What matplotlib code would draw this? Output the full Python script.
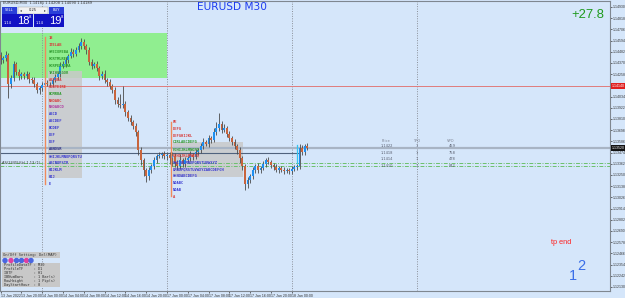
import matplotlib
matplotlib.use("Agg")
import matplotlib.pyplot as plt
import matplotlib.transforms as mtransforms
from matplotlib.patches import Rectangle, Circle
import numpy as np

W, H = 625, 298
BG = "#d5e6fa"

# EURUSD M30 candles, 13 Jan 16:00 -> 18 Jan 03:00
first_open = 1.1445
closes = [1.1440, 1.1442, 1.1445, 1.1416, 1.1422, 1.1436, 1.1428, 1.1424, 1.1426, 1.1424,
          1.1426, 1.1421, 1.1420, 1.1416, 1.1410, 1.1412, 1.1415, 1.1417, 1.1416, 1.1416,
          1.1420, 1.1423, 1.1426, 1.1434, 1.1436, 1.1440, 1.1444, 1.1448, 1.1446, 1.1450,
          1.1454, 1.1458, 1.1454, 1.1450, 1.1438, 1.1434, 1.1436, 1.1432, 1.1424, 1.1426,
          1.1420, 1.1418, 1.1414, 1.1410, 1.1400, 1.1396, 1.1395, 1.1396, 1.1388, 1.1382,
          1.1378, 1.1374, 1.1368, 1.1350, 1.1340, 1.1330, 1.1324, 1.1330, 1.1334, 1.1340,
          1.1344, 1.1345, 1.1346, 1.1344, 1.1345, 1.1342, 1.1344, 1.1338, 1.1334, 1.1340,
          1.1336, 1.1340, 1.1342, 1.1345, 1.1343, 1.1348, 1.1350, 1.1354, 1.1358, 1.1356,
          1.1362, 1.1360, 1.1368, 1.1372, 1.1376, 1.1370, 1.1372, 1.1366, 1.1362, 1.1358,
          1.1354, 1.1350, 1.1342, 1.1334, 1.1316, 1.1320, 1.1324, 1.1330, 1.1334, 1.1330,
          1.1332, 1.1336, 1.1340, 1.1338, 1.1335, 1.1333, 1.1330, 1.1332, 1.1330, 1.1329,
          1.1330, 1.1329, 1.1331, 1.1333, 1.1334, 1.1352, 1.1348, 1.1354, 1.1352]
# wick lengths in pips above / below the body
wick_up = [3, 2, 4, 2, 3, 3, 2, 3, 2, 2, 3, 2, 2, 3, 2, 2, 3, 2, 3, 2,
           2, 3, 2, 4, 3, 3, 2, 4, 3, 3, 3, 4, 3, 2, 3, 3, 2, 3, 2, 3,
           4, 2, 3, 2, 3, 3, 10, 18, 3, 2, 3, 2, 3, 2, 3, 2, 2, 3, 2, 3,
           2, 3, 2, 3, 2, 3, 4, 3, 2, 6, 2, 3, 2, 4, 2, 3, 2, 3, 4, 2,
           3, 2, 4, 6, 11, 3, 4, 2, 3, 2, 3, 2, 3, 2, 2, 3, 2, 3, 2, 3,
           2, 3, 2, 3, 2, 2, 3, 2, 2, 3, 2, 2, 3, 2, 2, 4, 3, 2, 3]
wick_dn = [4, 3, 3, 14, 4, 3, 3, 4, 3, 3, 3, 4, 3, 3, 3, 4, 3, 3, 2, 3,
           3, 2, 3, 3, 2, 3, 3, 2, 3, 2, 2, 3, 3, 4, 3, 3, 2, 3, 4, 3,
           3, 4, 3, 3, 4, 3, 3, 3, 4, 3, 3, 3, 4, 5, 5, 6, 6, 4, 3, 3,
           3, 2, 3, 3, 4, 6, 8, 5, 4, 3, 3, 3, 2, 3, 3, 2, 3, 3, 3, 2,
           3, 3, 2, 3, 3, 3, 2, 3, 3, 3, 3, 4, 5, 4, 6, 4, 3, 3, 3, 3,
           3, 2, 3, 2, 3, 3, 2, 3, 2, 3, 2, 3, 3, 2, 3, 3, 3, 3, 2]

date_bars = [0, 8, 16, 24, 32, 40, 48, 56, 64, 72, 80, 88, 96, 104, 112]
date_labels = ["13 Jan 2022", "13 Jan 20:00", "14 Jan 00:00", "14 Jan 04:00", "14 Jan 08:00",
               "14 Jan 12:00", "14 Jan 16:00", "14 Jan 20:00", "17 Jan 00:00", "17 Jan 04:00",
               "17 Jan 08:00", "17 Jan 12:00", "17 Jan 16:00", "17 Jan 20:00", "18 Jan 00:00"]
day_breaks = [16, 64, 112, 160]

price_tick_top = 1.1493
price_tick_step = 0.00112
n_price_ticks = 26

zone_top, zone_bottom, zone_end = 1.1467, 1.1422, 64
red_level = 1.1414
bid_level = 1.1352
ib_level = 1.1347
green_levels = [1.1337, 1.1334]

tbl_price = ["1.1422", "1.1418", "1.1414", "1.1410"]
tbl_tpo = ["1", "1", "1", "1"]
tbl_vpo = ["459", "758", "478", "842"]

R, G, B, P = "#d83c3c", "#2f9a2f", "#3a3ad0", "#b03ca0"
profile1 = [("18", R), ("1TELAB", R), ("GREIOREBA", G), ("FORTMURET", G), ("FORPERSOMA", G),
            ("TRIHORGOR", G), ("ABCDEA", R), ("FORTEIRE", R), ("BCMRBA", G), ("MNOABC", R),
            ("MNOABCD", P), ("ABCD", B), ("ABCDEF", B), ("BCDEF", B), ("DEF", B), ("DEF", B),
            ("ABNOSR", "#2a2a80"), ("GHIJKLMNOPQRSTU", B), ("ABCNOPSTR", B), ("HIJKLM", B),
            ("HIJ", B), ("E", B)]
profile2 = [("FE", R), ("DEFG", R), ("DEFGHIJKL", R), ("CIRLABCDEFG", G), ("FGHIJKLMNOPQ", G),
            ("FGHIJKLMNOPQ", R), ("GHIJKLMNOPQRSTUVWXYZ", B), ("LMNOPQRSTUVWXYZABCDEFGH", B),
            ("GHNOABCDEFG", B), ("NOABC", B), ("NOAB", B), ("A", R)]

settings = ["ProfileDataTF : M30", "ProfileTF     : D1", "IBTF          : H1",
            "IBNumBars     : 1 Bar(s)", "RowHeight     : 1 Pip(s)", "DayStartHour  : 0"]

fig = plt.figure(figsize=(W / 100, H / 100), dpi=100, facecolor=BG)
ax = fig.add_axes([0, 7 / H, 610 / W, 290 / H], facecolor=BG)
ax.set_xlim(-0.2, 234.4)
ax.set_ylim(1.1209, 1.1499)

# image-pixel transform for the terminal overlays
pix = mtransforms.Affine2D().scale(0.01, -0.01).translate(0, H / 100) + fig.dpi_scale_trans

x = np.arange(len(closes))
c = np.array(closes)
o = np.concatenate([[first_open], c[:-1]])
top = np.maximum(o, c)
bot = np.minimum(o, c)
hi = top + np.array(wick_up) * 0.0001
lo = bot - np.array(wick_dn) * 0.0001
cols = np.where(c >= o, "#1e8ff0", "#c8643c")

ax.add_patch(Rectangle((-2, zone_bottom), zone_end + 2, zone_top - zone_bottom,
                       color="#90ee90", lw=0, zorder=1))
for b in day_breaks:
    ax.axvline(b, color="#8a8f98", lw=0.7, ls=(0, (1, 1.5)), zorder=1.2)

# profile backgrounds
ax.add_patch(Rectangle((48, 71), 34, 107, transform=pix, color="#c9c9c9", alpha=0.85, lw=0, zorder=1.5))
ax.add_patch(Rectangle((173, 142), 70, 35, transform=pix, color="#c9c9c9", alpha=0.85, lw=0, zorder=1.5))

ax.axhline(red_level, color="#e07c7c", lw=0.7, zorder=1.6)
ax.axhline(bid_level, color="#a8b4c4", lw=1.6, zorder=1.6)
ax.plot([0, 298], [153, 153], transform=pix, color="#50637e", lw=0.8, zorder=1.7)
for lvl in green_levels:
    ax.axhline(lvl, color="#6cc06c", lw=0.7, ls=(0, (4, 1.5, 1, 1.5)), zorder=1.7)

ax.vlines(x, lo, hi, color="#4a4a4a", lw=0.6, zorder=2.5)
ax.bar(x, np.maximum(top - bot, 0.00002), bottom=bot, width=0.66, color=cols, lw=0, zorder=3)

# orange profile markers
ax.plot([45, 45], [37, 184], transform=pix, color="#f08a5a", lw=1.0, zorder=3.5)
ax.plot([171, 171], [122, 196], transform=pix, color="#f08a5a", lw=1.0, zorder=3.5)
ax.plot([297, 297], [145, 163], transform=pix, color="#33c4f0", lw=0.9, zorder=3.5)

mono = "DejaVu Sans Mono"
for k, (s, col) in enumerate(profile1):
    ax.text(49, 38 + 6.95 * k, s, transform=pix, fontsize=2.7, family=mono, weight="bold",
            color=col, va="center", ha="left", zorder=4)
for k, (s, col) in enumerate(profile2):
    ax.text(173, 122 + 6.8 * k, s, transform=pix, fontsize=2.7, family=mono, weight="bold",
            color=col, va="center", ha="left", zorder=4)

# TPO/VPO table
for xx, s in zip([382, 413, 447], ["Price", "TPO", "VPO"]):
    ax.text(xx, 141, s, transform=pix, fontsize=2.6, color="#7a8090", va="center")
for k in range(len(tbl_price)):
    yy = 146 + 6.7 * k
    ax.text(381, yy, tbl_price[k], transform=pix, fontsize=2.6, color="#5a6070", va="center")
    ax.text(416, yy, tbl_tpo[k], transform=pix, fontsize=2.6, color="#5a6070", va="center")
    ax.text(449, yy, tbl_vpo[k], transform=pix, fontsize=2.6, color="#5a6070", va="center")

ax.text(2, 163, "AS(24/05)(b) 1.13 (1)", transform=pix, fontsize=2.6, color="#333", va="center")

# axes / ticks
arial = "Liberation Sans"
for sp in ax.spines.values():
    sp.set_color("#7f8790")
    sp.set_linewidth(0.8)
ax.yaxis.tick_right()
yt = [price_tick_top - price_tick_step * k for k in range(n_price_ticks)]
ax.set_yticks(yt)
ax.set_yticklabels(["%.5f" % v for v in yt], family=arial)
ax.tick_params(axis="y", labelsize=2.5, length=1.5, pad=0.6, colors="#333", width=0.5)
ax.set_xticks(date_bars)
ax.set_xticklabels(date_labels, family=arial)
ax.tick_params(axis="x", labelsize=2.6, length=1.5, pad=0.6, colors="#333", width=0.5)
for lab in ax.get_xticklabels():
    lab.set_ha("left")

tr = mtransforms.blended_transform_factory(ax.transAxes, ax.transData)
ax.text(1.003, red_level, "1.14140", transform=tr, fontsize=2.5, color="white", va="center",
        family=arial, bbox=dict(boxstyle="square,pad=0.15", fc="#e02020", ec="none"),
        zorder=6, clip_on=False)
ax.text(1.003, bid_level, "1.13520", transform=tr, fontsize=2.5, color="white", va="center",
        family=arial, bbox=dict(boxstyle="square,pad=0.15", fc="#111111", ec="none"),
        zorder=6, clip_on=False)

# big texts
fig.text(197 / W, 1 - 7.5 / H, "EURUSD M30", fontsize=7.6, color="#1e3cf0", va="center", ha="left")
fig.text(571 / W, 1 - 15 / H, "+27.8", fontsize=9.4, color="#1e9a1e", va="center", ha="left", family=arial)
fig.text(551 / W, 1 - 242 / H, "tp end", fontsize=5.3, color="#ff2020", va="center", ha="left", family=arial)
fig.text(569 / W, 1 - 276.5 / H, "1", fontsize=10.5, color="#3a6ee8", va="center", ha="left", family=arial)
fig.text(577 / W, 1 - 265.5 / H, "2", fontsize=10.5, color="#3a6ee8", va="center", ha="left", family=arial)

# one-click trading panel
fig.text(3 / W, 1 - 3 / H, "EURUSD,M30  1.14181 1.14208 1.14090 1.14189", fontsize=2.6,
         color="#333", va="center", ha="left")
ax.add_patch(Rectangle((2, 7), 15, 6.5, transform=pix, color="#2a3fd8", lw=0, zorder=7, clip_on=False))
ax.add_patch(Rectangle((18, 7), 30, 6.5, transform=pix, fc="#f2f2f2", ec="#999", lw=0.3, zorder=7, clip_on=False))
ax.add_patch(Rectangle((49, 7), 15, 6.5, transform=pix, color="#2a3fd8", lw=0, zorder=7, clip_on=False))
ax.add_patch(Rectangle((2, 14), 31, 12.5, transform=pix, color="#1212c4", lw=0, zorder=7, clip_on=False))
ax.add_patch(Rectangle((34, 14), 30, 12.5, transform=pix, color="#1212c4", lw=0, zorder=7, clip_on=False))
ax.text(9.5, 10.3, "SELL", transform=pix, fontsize=2.6, color="white", ha="center", va="center", zorder=8)
ax.text(56.5, 10.3, "BUY", transform=pix, fontsize=2.6, color="white", ha="center", va="center", zorder=8)
ax.text(33, 10.3, "0.25", transform=pix, fontsize=2.6, color="#222", ha="center", va="center", zorder=8)
ax.text(21, 10.3, "\u25c2", transform=pix, fontsize=2.6, color="#444", ha="center", va="center", zorder=8)
ax.text(45, 10.3, "\u25b8", transform=pix, fontsize=2.6, color="#444", ha="center", va="center", zorder=8)
for x0, big in [(4, "18"), (36, "19")]:
    ax.text(x0, 22.5, "1.14", transform=pix, fontsize=2.6, color="white", va="center", zorder=8)
    ax.text(x0 + 13, 20.5, big, transform=pix, fontsize=8, color="white", va="center",
            family=arial, zorder=8)
    ax.text(x0 + 24.5, 17, "8", transform=pix, fontsize=2.8, color="white", va="center", zorder=8)

# settings panel
ax.add_patch(Rectangle((2, 252), 58, 6, transform=pix, color="#c8c8c8", lw=0, zorder=7))
ax.text(3, 255, "On/Off Setting: Del(MAP)", transform=pix, fontsize=2.7, family=mono,
        color="#333", va="center", zorder=8)
for xx, col in zip([5, 11, 16.5, 21.5, 26.5, 31], ["#4a66e0", "#e040a0", "#4a66e0", "#4a66e0", "#e040a0", "#4a66e0"]):
    ax.add_patch(Circle((xx, 260.5), 2.0, transform=pix, color=col, zorder=8))
ax.add_patch(Rectangle((2, 262.5), 58, 24, transform=pix, color="#c8c8c8", lw=0, zorder=7))
for k, s in enumerate(settings):
    ax.text(4, 265 + 4 * k, s, transform=pix, fontsize=2.6, family=mono, color="#333",
            va="center", zorder=8)

fig.savefig("out.png", dpi=100, facecolor=BG)
